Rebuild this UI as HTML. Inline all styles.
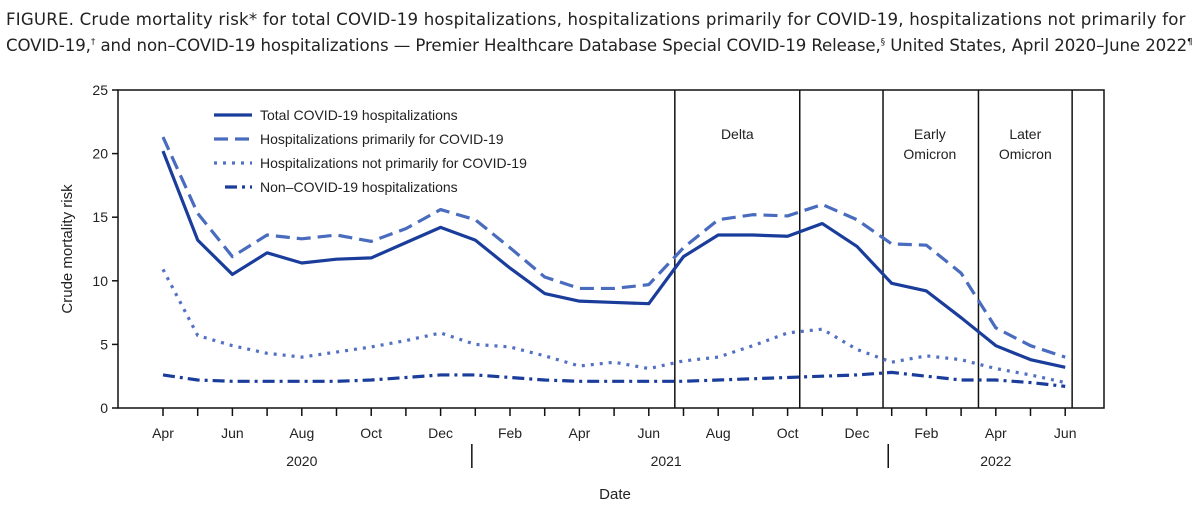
<!DOCTYPE html>
<html><head><meta charset="utf-8"><style>
body{margin:0;background:#fff;width:1200px;height:518px;overflow:hidden;font-family:"Liberation Sans",sans-serif}
.title{position:absolute;left:6px;top:8px;font-family:"DejaVu Sans",sans-serif;font-size:16.6px;line-height:23px;color:#222;white-space:nowrap}
.l1{letter-spacing:0.2px}.l2{letter-spacing:-0.1px}
sup{font-size:9px}
</style></head><body>
<div class="title"><span class="l1">FIGURE. Crude mortality risk* for total COVID-19 hospitalizations, hospitalizations primarily for COVID-19, hospitalizations not primarily for</span><br><span class="l2">COVID-19,<sup>†</sup> and non–COVID-19 hospitalizations — Premier Healthcare Database Special COVID-19 Release,<sup>§</sup> United States, April 2020–June 2022<sup>¶</sup></span></div>
<svg id="chart" width="1200" height="518" style="position:absolute;left:0;top:0" font-family="Liberation Sans, sans-serif"></svg>
<script>
const months=["Apr","May","Jun","Jul","Aug","Sep","Oct","Nov","Dec","Jan","Feb","Mar","Apr","May","Jun","Jul","Aug","Sep","Oct","Nov","Dec","Jan","Feb","Mar","Apr","May","Jun"];
const totalCovid=[20.2,13.2,10.5,12.2,11.4,11.7,11.8,13.0,14.2,13.2,11.0,9.0,8.4,8.3,8.2,11.9,13.6,13.6,13.5,14.5,12.7,9.8,9.2,7.1,4.9,3.8,3.2];
const primaryCovid=[21.3,15.3,11.9,13.6,13.3,13.6,13.1,14.1,15.6,14.8,12.6,10.3,9.4,9.4,9.7,12.6,14.8,15.2,15.1,16.0,14.8,12.9,12.8,10.6,6.3,4.9,4.0];
const notPrimaryCovid=[10.9,5.7,4.9,4.3,4.0,4.4,4.8,5.3,5.9,5.0,4.8,4.1,3.3,3.6,3.1,3.7,4.0,4.9,5.9,6.2,4.6,3.6,4.1,3.8,3.1,2.6,2.0];
const nonCovid=[2.6,2.2,2.1,2.1,2.1,2.1,2.2,2.4,2.6,2.6,2.4,2.2,2.1,2.1,2.1,2.1,2.2,2.3,2.4,2.5,2.6,2.8,2.5,2.2,2.2,2.0,1.7];
const yTicks=[0,5,10,15,20,25];
const periodBounds=[14.75,18.35,20.75,23.5,26.2];
const periodLabels=[["Delta"],["Early","Omicron"],["Later","Omicron"]];
const periodLabelPos=[16.55,22.1,24.85];
const years=["2020","2021","2022"];
const yearPos=[4,14.5,24];
const yearSeps=[8.9,20.9];

const svg=document.getElementById('chart');
const NS="http://www.w3.org/2000/svg";
const x0=163,dx=34.7,yBase=408,yTop=90,yMax=25;
const X=i=>x0+i*dx;
const Y=v=>yBase-(v/yMax)*(yBase-yTop);
function mk(t,a,p){const e=document.createElementNS(NS,t);for(const k in a)e.setAttribute(k,a[k]);(p||svg).appendChild(e);return e;}

const frame=mk('path',{d:`M118 ${yTop} H1104 V${yBase} H118 Z`,fill:'none',stroke:'#111','stroke-width':1.5});


yTicks.forEach(v=>{
  const t=mk('line',{x1:112,x2:118,y1:Y(v),y2:Y(v),stroke:'#111','stroke-width':1.5});
  
  
  const l=mk('text',{x:108,y:Y(v)+5,'text-anchor':'end','font-size':14,fill:'#222'});
  l.textContent=v;
  
  
});
const yt=mk('text',{x:0,y:0,transform:`translate(72,${(yTop+yBase)/2}) rotate(-90)`,'text-anchor':'middle','font-size':15,fill:'#222'});
yt.textContent='Crude mortality risk';


months.forEach((m,i)=>{
  const t=mk('line',{x1:X(i),x2:X(i),y1:yBase,y2:yBase+8,stroke:'#111','stroke-width':1.5});
  
  
  if(i%2===0){
    const l=mk('text',{x:X(i),y:438,'text-anchor':'middle','font-size':14,fill:'#222'});
    l.textContent=m;
    
    
  }
});
years.forEach((y,i)=>{
  const l=mk('text',{x:X(yearPos[i]),y:466,'text-anchor':'middle','font-size':14,fill:'#222'});
  l.textContent=y;
  
  
});
yearSeps.forEach(p=>{
  const s=mk('line',{x1:X(p),x2:X(p),y1:444,y2:468,stroke:'#111','stroke-width':1.5});
  
  
});
const xt=mk('text',{x:615,y:499,'text-anchor':'middle','font-size':15,fill:'#222'});
xt.textContent='Date';


periodBounds.forEach(p=>{
  const s=mk('line',{x1:X(p),x2:X(p),y1:yTop,y2:yBase,stroke:'#111','stroke-width':1.5});
  
  
});
periodLabels.forEach((lines,i)=>{
  lines.forEach((txt,j)=>{
    const l=mk('text',{x:X(periodLabelPos[i]),y:139+j*20,'text-anchor':'middle','font-size':14,fill:'#222'});
    l.textContent=txt;
    
    
  });
});
const series=[
 {d:totalCovid,c:'#1a3d9c',dash:'',w:3.2,n:'Total COVID-19 hospitalizations',id:'total-covid-line'},
 {d:primaryCovid,c:'#4a6cbf',dash:'14 7',w:3.2,n:'Hospitalizations primarily for COVID-19',id:'primary-covid-line'},
 {d:notPrimaryCovid,c:'#5270c4',dash:'3 6',w:3.2,n:'Hospitalizations not primarily for COVID-19',id:'not-primary-covid-line'},
 {d:nonCovid,c:'#1a3d9c',dash:'12 5 3 5',w:3.2,n:'Non–COVID-19 hospitalizations',id:'non-covid-line'}
];
series.forEach((s,k)=>{
  const p=mk('polyline',{points:s.d.map((v,i)=>X(i)+','+Y(v)).join(' '),fill:'none',stroke:s.c,'stroke-width':s.w,'stroke-dasharray':s.dash,'stroke-linejoin':'round'});
  
  
  const ly=115+k*24;
  const g=mk('g',{});
  
  
  mk('line',{x1:k===3?225:214,x2:252,y1:ly,y2:ly,stroke:s.c,'stroke-width':3.2,'stroke-dasharray':s.dash},g);
  const t=mk('text',{x:260,y:ly+5,'font-size':14,fill:'#222'},g);
  t.textContent=s.n;
});
</script>
</body></html>
